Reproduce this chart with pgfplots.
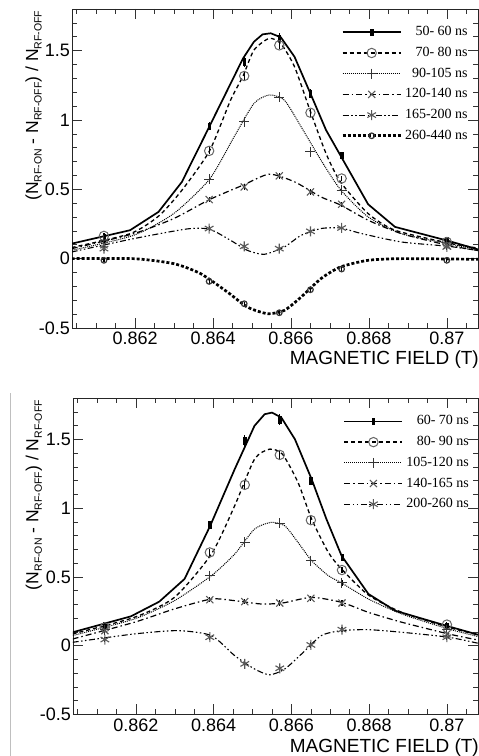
\documentclass[border=0pt]{standalone}
\usepackage{fontspec}
\setmainfont{Liberation Sans}
\newfontfamily\timesfont{Liberation Serif}
\usepackage{pgfplots}
\usepackage{pgfplotstable}
\pgfplotsset{compat=1.18}

\newcommand{\sub}[1]{\raisebox{-3.5pt}{\fontsize{10.5}{12}\selectfont #1}}

% ---- top panel: fitted curves ----
\pgfplotstableread{
x y
0.86037 0.108
0.86187 0.205
0.8626 0.337
0.8632 0.553
0.86391 0.955
0.86477 1.444
0.86505 1.564
0.86527 1.617
0.86548 1.625
0.86574 1.596
0.86609 1.456
0.8665 1.19
0.8669 0.927
0.86727 0.744
0.86798 0.392
0.86867 0.229
0.87004 0.128
0.87088 0.06
}\tA
\pgfplotstableread{
x y
0.86037 0.08
0.86187 0.18
0.8626 0.306
0.8632 0.493
0.86391 0.777
0.86445 1.143
0.86477 1.317
0.86505 1.504
0.86544 1.588
0.86574 1.55
0.86609 1.384
0.8665 1.06
0.8669 0.758
0.86727 0.553
0.86798 0.325
0.86867 0.205
0.87004 0.113
0.87088 0.072
}\tB
\pgfplotstableread{
x y
0.86037 0.06
0.86196 0.168
0.86299 0.325
0.86391 0.573
0.86454 0.878
0.86505 1.119
0.86544 1.18
0.86583 1.143
0.86626 0.951
0.86677 0.71
0.86727 0.498
0.86798 0.301
0.86884 0.18
0.87004 0.108
0.87088 0.06
}\tC
\pgfplotstableread{
x y
0.86037 0.072
0.86196 0.18
0.86299 0.289
0.86391 0.426
0.86477 0.53
0.86544 0.609
0.86609 0.554
0.86677 0.445
0.86727 0.387
0.86798 0.277
0.86884 0.18
0.87004 0.096
0.87088 0.055
}\tD
\pgfplotstableread{
x y
0.86037 0.048
0.86196 0.144
0.86333 0.214
0.86391 0.212
0.86445 0.132
0.86488 0.06
0.86531 0.031
0.86583 0.084
0.86626 0.168
0.86677 0.217
0.86727 0.221
0.86781 0.181
0.86884 0.12
0.87004 0.089
0.87088 0.055
}\tE
\pgfplotstableread{
x y
0.86037 0.0
0.86196 0.0
0.86299 -0.036
0.86368 -0.108
0.86437 -0.241
0.86488 -0.349
0.8654 -0.397
0.86583 -0.373
0.86626 -0.277
0.86677 -0.144
0.86727 -0.06
0.86798 -0.012
0.86884 0.0
0.87088 -0.005
}\tF

% ---- top panel: measured points ----
\pgfplotstableread{
x y e
0.8612 0.152 0.025
0.8639 0.955 0.03
0.8648 1.42 0.04
0.8657 1.59 0.04
0.8665 1.19 0.03
0.8673 0.744 0.02
0.8700 0.128 0.03
}\pA
\pgfplotstableread{
x y e
0.8612 0.164 0.02
0.8639 0.777 0.025
0.8648 1.317 0.03
0.8657 1.538 0.03
0.8665 1.052 0.03
0.8673 0.578 0.02
0.8700 0.12 0.02
}\pB
\pgfplotstableread{
x y e
0.8612 0.132 0.02
0.8639 0.573 0.02
0.8648 0.987 0.025
0.8657 1.163 0.03
0.8665 0.77 0.02
0.8673 0.493 0.02
0.8700 0.113 0.02
}\pC
\pgfplotstableread{
x y e
0.8612 0.10 0.02
0.8639 0.426 0.02
0.8648 0.517 0.02
0.8657 0.597 0.02
0.8665 0.481 0.02
0.8673 0.392 0.02
0.8700 0.096 0.02
}\pD
\pgfplotstableread{
x y e
0.8612 0.072 0.02
0.8639 0.217 0.02
0.8648 0.089 0.02
0.8657 0.072 0.02
0.8665 0.197 0.02
0.8673 0.221 0.02
0.8700 0.084 0.02
}\pE
\pgfplotstableread{
x y e
0.8612 -0.012 0.015
0.8639 -0.164 0.02
0.8648 -0.325 0.015
0.8657 -0.39 0.02
0.8665 -0.224 0.015
0.8673 -0.075 0.015
0.8700 -0.012 0.015
}\pF

% ---- bottom panel: fitted curves ----
\pgfplotstableread{
x y
0.86037 0.097
0.86187 0.213
0.8626 0.32
0.86325 0.485
0.86391 0.872
0.86454 1.284
0.86505 1.6
0.86531 1.684
0.8655 1.696
0.86574 1.66
0.86609 1.502
0.86652 1.211
0.8669 0.921
0.86729 0.654
0.86798 0.376
0.86867 0.254
0.87004 0.14
0.87088 0.073
}\bA
\pgfplotstableread{
x y
0.86037 0.085
0.86196 0.206
0.86299 0.351
0.86394 0.666
0.86454 1.018
0.86505 1.357
0.86544 1.43
0.86577 1.393
0.86617 1.187
0.86652 0.921
0.86695 0.678
0.86729 0.557
0.86798 0.368
0.86884 0.242
0.87004 0.133
0.87088 0.073
}\bB
\pgfplotstableread{
x y
0.86037 0.073
0.86196 0.194
0.86299 0.327
0.86394 0.509
0.86454 0.666
0.86505 0.848
0.86548 0.897
0.86583 0.872
0.86617 0.751
0.86652 0.618
0.86695 0.509
0.86729 0.456
0.86798 0.339
0.86884 0.23
0.87004 0.121
0.87088 0.061
}\bC
\pgfplotstableread{
x y
0.86037 0.048
0.86196 0.17
0.86299 0.267
0.86394 0.339
0.86454 0.327
0.86522 0.303
0.86577 0.31
0.86652 0.351
0.86729 0.315
0.86798 0.242
0.86884 0.17
0.87004 0.085
0.87088 0.036
}\bD
\pgfplotstableread{
x y
0.86037 0.024
0.86196 0.085
0.86308 0.109
0.86394 0.073
0.86454 -0.073
0.86505 -0.17
0.86544 -0.213
0.86583 -0.17
0.86626 -0.061
0.86677 0.073
0.86729 0.109
0.86798 0.116
0.86884 0.097
0.87004 0.061
0.87088 0.012
}\bE

% ---- bottom panel: measured points ----
\pgfplotstableread{
x y e
0.8612 0.145 0.03
0.8639 0.88 0.03
0.8648 1.49 0.04
0.8657 1.643 0.04
0.8665 1.2 0.03
0.8673 0.642 0.02
0.8700 0.14 0.03
}\qA
\pgfplotstableread{
x y e
0.8612 0.133 0.02
0.8639 0.678 0.025
0.8648 1.17 0.03
0.8657 1.388 0.03
0.8665 0.913 0.03
0.8673 0.55 0.02
0.8700 0.153 0.02
}\qB
\pgfplotstableread{
x y e
0.8612 0.116 0.02
0.8639 0.509 0.02
0.8648 0.751 0.02
0.8657 0.892 0.025
0.8665 0.618 0.02
0.8673 0.456 0.02
0.8700 0.116 0.02
}\qC
\pgfplotstableread{
x y e
0.8612 0.109 0.02
0.8639 0.334 0.02
0.8648 0.32 0.02
0.8657 0.31 0.02
0.8665 0.344 0.02
0.8673 0.31 0.02
0.8700 0.085 0.02
}\qD
\pgfplotstableread{
x y e
0.8612 0.044 0.02
0.8639 0.061 0.02
0.8648 -0.133 0.02
0.8657 -0.165 0.02
0.8665 0.005 0.02
0.8673 0.116 0.02
0.8700 0.061 0.02
}\qE

\pgfplotsset{
  lA/.style={black, line width=1.7pt},
  lB/.style={black, line width=1.3pt, dash pattern=on 4pt off 3pt},
  lC/.style={black, line width=1pt, dash pattern=on 1pt off 1pt},
  lD/.style={black, line width=1.2pt, dash pattern=on 6pt off 3pt on 1.5pt off 3pt},
  lE/.style={black, line width=1.1pt, dash pattern=on 6pt off 2.5pt on 1.5pt off 2.5pt on 1.5pt off 2.5pt},
  lF/.style={black, line width=2.7pt, dash pattern=on 3pt off 2pt},
  mA/.style={mark=square*, mark size=2pt, mark options={solid, black, line width=0.5pt, xscale=0.6, yscale=1.6}},
  mB/.style={mark=o, mark size=4.7pt, mark options={solid, black!60, line width=1pt}},
  mC/.style={mark=+, mark size=5pt, mark options={solid, black!80, line width=1pt}},
  mD/.style={mark=x, mark size=5pt, mark options={solid, black!65, line width=1.1pt}},
  mE/.style={mark=asterisk, mark size=5pt, mark options={solid, black!65, line width=1.1pt}},
  mF/.style={mark=o, mark size=2.8pt, mark options={solid, black!80, line width=1.2pt}},
  pts/.style={only marks, forget plot,
    error bars/y dir=both, error bars/y explicit,
    error bars/error bar style={solid, black, line width=1.1pt},
    error bars/error mark=none},
  panel/.style={
    scale only axis,
    xmin=0.86038, xmax=0.8708, ymin=-0.5, ymax=1.8,
    xtick={0.862,0.864,0.866,0.868,0.87},
    xticklabels={0.862,0.864,0.866,0.868,0.87},
    minor xtick={0.8605,0.861,0.8615,0.8625,0.863,0.8635,0.8645,0.865,0.8655,0.8665,0.867,0.8675,0.8685,0.869,0.8695,0.8705},
    ytick={-0.5,0,0.5,1,1.5},
    yticklabels={-0.5,0,0.5,1,1.5},
    minor ytick={-0.4,-0.3,-0.2,-0.1,0.1,0.2,0.3,0.4,0.6,0.7,0.8,0.9,1.1,1.2,1.3,1.4,1.6,1.7},
    tick align=inside,
    major tick length=10pt, minor tick length=5pt,
    tick style={black!80, line width=0.6pt},
    axis line style={black!85, line width=0.8pt},
    tick label style={font=\fontsize{18}{20}\selectfont},
    xticklabel style={inner sep=0pt, yshift=-4pt},
    yticklabel style={inner sep=0pt, xshift=-2pt},
    xlabel={MAGNETIC FIELD (T)},
    ylabel={(N\sub{RF-ON} - N\sub{RF-OFF}) / N\sub{RF-OFF}},
    ylabel style={anchor=south east, inner sep=0pt, font=\fontsize{17.5}{20}\selectfont},
    legend cell align=right,
    legend image code/.code={\draw[mark repeat=2, mark phase=2] plot coordinates {(0pt,0pt)(29pt,0pt)(58pt,0pt)};},
    legend style={draw=none, fill=none, anchor=north east, inner sep=0pt,
      font=\timesfont\fontsize{14}{16}\selectfont,
      row sep=7.7pt, column sep=3pt,
      nodes={inner sep=0pt, text height=10pt, text depth=3pt}},
  },
}

\begin{document}
\begin{tikzpicture}
\path[use as bounding box] (0pt,0pt) rectangle (479pt,756pt);
\draw[black!25, line width=0.8pt] (10pt,0pt) -- (10pt,363pt);

% top panel
\begin{axis}[panel, at={(72pt,428pt)}, anchor=south west, width=406pt, height=319pt,
  xlabel style={at={(rel axis cs:1.0025,-0.113)}, anchor=base east, inner sep=0pt, font=\fontsize{19}{22}\selectfont},
  ylabel style={at={(rel axis cs:-0.074,0.995)}},
  legend style={at={(rel axis cs:0.975,0.948)}}]
\addlegendimage{lA, mA}\addlegendentry{50- 60 ns}
\addlegendimage{lB, mB}\addlegendentry{70- 80 ns}
\addlegendimage{lC, mC}\addlegendentry{90-105 ns}
\addlegendimage{lD, mD}\addlegendentry{120-140 ns}
\addlegendimage{lE, mE}\addlegendentry{165-200 ns}
\addlegendimage{lF, mF}\addlegendentry{260-440 ns}
\addplot[lA, forget plot] table {\tA};
\addplot[lB, smooth, tension=0.4, forget plot] table {\tB};
\addplot[lC, smooth, tension=0.4, forget plot] table {\tC};
\addplot[lD, smooth, tension=0.4, forget plot] table {\tD};
\addplot[lE, smooth, tension=0.4, forget plot] table {\tE};
\addplot[lF, smooth, tension=0.4, forget plot] table {\tF};
\addplot[pts, mA] table[x=x, y=y, y error=e] {\pA};
\addplot[pts, mB] table[x=x, y=y, y error=e] {\pB};
\addplot[pts, mC] table[x=x, y=y, y error=e] {\pC};
\addplot[pts, mD] table[x=x, y=y, y error=e] {\pD};
\addplot[pts, mE] table[x=x, y=y, y error=e] {\pE};
\addplot[pts, mF] table[x=x, y=y, y error=e] {\pF};
\end{axis}

% bottom panel
\begin{axis}[panel, at={(73pt,41.7pt)}, anchor=south west, width=405pt, height=316pt,
  xlabel style={at={(rel axis cs:1.0025,-0.12)}, anchor=base east, inner sep=0pt, font=\fontsize{19}{22}\selectfont},
  ylabel style={at={(rel axis cs:-0.076,0.995)}},
  legend style={at={(rel axis cs:0.978,0.948)}}]
\addlegendimage{lA, mA}\addlegendentry{60- 70 ns}
\addlegendimage{lB, mB}\addlegendentry{80- 90 ns}
\addlegendimage{lC, mC}\addlegendentry{105-120 ns}
\addlegendimage{lD, mD}\addlegendentry{140-165 ns}
\addlegendimage{lE, mE}\addlegendentry{200-260 ns}
\addplot[lA, forget plot] table {\bA};
\addplot[lB, smooth, tension=0.4, forget plot] table {\bB};
\addplot[lC, smooth, tension=0.4, forget plot] table {\bC};
\addplot[lD, smooth, tension=0.4, forget plot] table {\bD};
\addplot[lE, smooth, tension=0.4, forget plot] table {\bE};
\addplot[pts, mA] table[x=x, y=y, y error=e] {\qA};
\addplot[pts, mB] table[x=x, y=y, y error=e] {\qB};
\addplot[pts, mC] table[x=x, y=y, y error=e] {\qC};
\addplot[pts, mD] table[x=x, y=y, y error=e] {\qD};
\addplot[pts, mE] table[x=x, y=y, y error=e] {\qE};
\end{axis}
\end{tikzpicture}
\end{document}
